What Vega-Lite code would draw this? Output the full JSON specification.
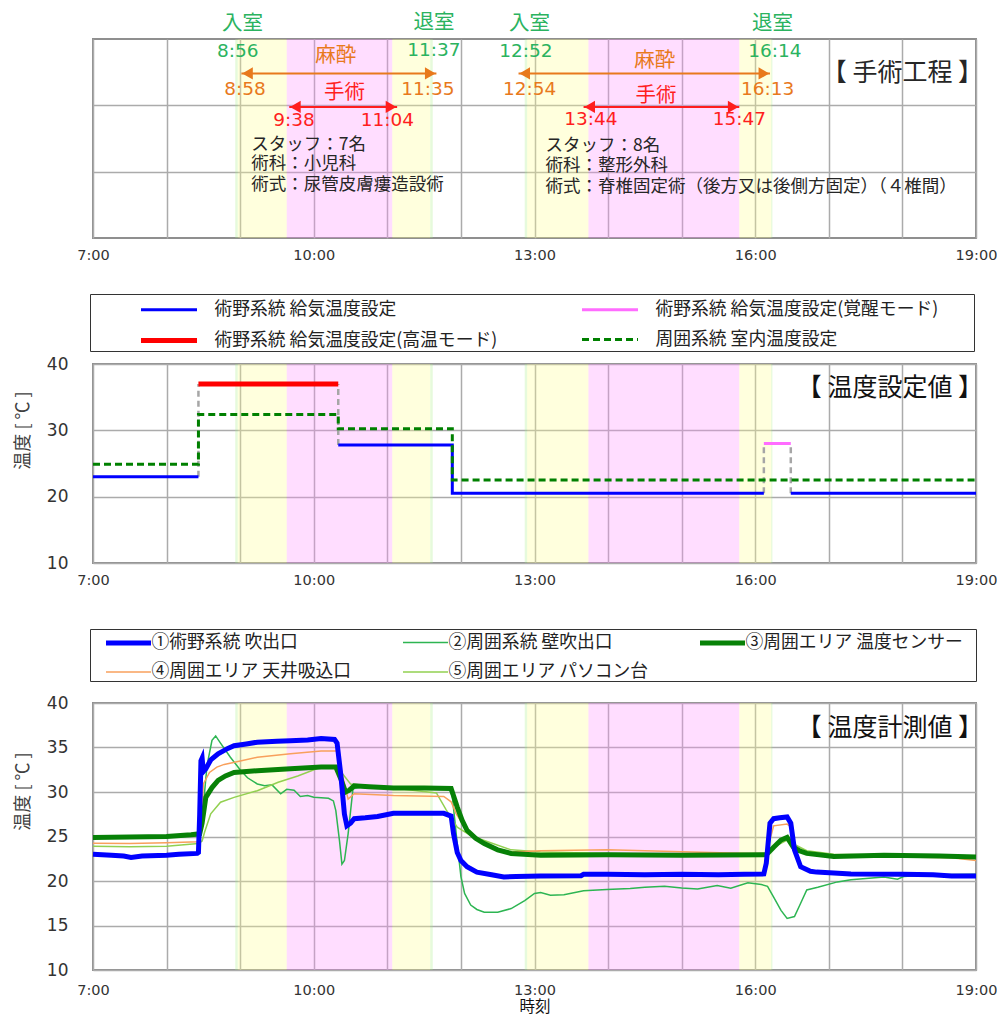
{
  "$schema": "https://vega.github.io/schema/vega-lite/v6.json",
  "padding": {"left": 13, "top": 12, "right": 5, "bottom": 0},
  "config": {
    "font": "Noto Sans CJK JP",
    "view": {"stroke": "#8f8f8f", "strokeWidth": 2},
    "axis": {"gridColor": "#ababab", "gridWidth": 1.5, "domain": false, "ticks": false},
    "axisY": {"titleFontSize": 18, "titleFontWeight": "normal", "titleColor": "#404040", "titlePadding": 14, "titleAlign": "center", "labelFont": "DejaVu Sans", "labelFontSize": 17, "labelColor": "#333", "labelPadding": 25},
    "axisX": {"labelFont": "DejaVu Sans", "labelFontSize": 14.5, "labelColor": "#333", "labelFlush": false, "labelOverlap": false, "titleFontSize": 15.5, "titleFontWeight": "normal", "titleColor": "#111"}
  },
  "resolve": {
    "scale": {"color": "independent", "fill": "independent", "shape": "independent", "strokeWidth": "independent", "strokeDash": "independent"},
    "legend": {"color": "independent", "fill": "independent", "shape": "independent", "strokeWidth": "independent", "strokeDash": "independent"}
  },
  "spacing": 29,
  "vconcat": [
    {
      "width": 883,
      "height": 199,
      "layer": [
        {
          "data": {"values": [
            {"t": 8.933, "t2": 8.967, "p": "入室"},
            {"t": 8.967, "t2": 9.633, "p": "麻酔"},
            {"t": 9.633, "t2": 11.067, "p": "手術"},
            {"t": 11.067, "t2": 11.583, "p": "麻酔"},
            {"t": 11.583, "t2": 11.617, "p": "退室"},
            {"t": 12.867, "t2": 12.9, "p": "入室"},
            {"t": 12.9, "t2": 13.733, "p": "麻酔"},
            {"t": 13.733, "t2": 15.783, "p": "手術"},
            {"t": 15.783, "t2": 16.217, "p": "麻酔"},
            {"t": 16.217, "t2": 16.233, "p": "退室"}
          ]},
          "mark": {"type": "rect", "fillOpacity": 0.3},
          "encoding": {
            "x": {"field": "t", "type": "quantitative", "scale": {"domain": [7, 19], "nice": false}, "axis": {"title": null, "values": [7, 8, 9, 10, 11, 12, 13, 14, 15, 16, 17, 18, 19], "labelExpr": "datum.value % 3 == 1 ? datum.value + ':00' : ''", "grid": true, "labelPadding": 10}},
            "x2": {"field": "t2"},
            "fill": {"field": "p", "type": "nominal", "scale": {"domain": ["入室", "麻酔", "手術", "退室"], "range": ["#acee8a", "#ffff8e", "#ff8eff", "#acee8a"]}, "legend": null}
          }
        },
        {
          "data": {"values": [
            {"t": 9.017, "t2": 11.667, "y": 2.48, "c": "麻酔"},
            {"t": 9.667, "t2": 11.133, "y": 1.975, "c": "手術"},
            {"t": 12.783, "t2": 16.2, "y": 2.48, "c": "麻酔"},
            {"t": 13.667, "t2": 15.783, "y": 1.975, "c": "手術"}
          ]},
          "mark": {"type": "rule", "strokeWidth": 2},
          "encoding": {
            "x": {"field": "t", "type": "quantitative"},
            "x2": {"field": "t2"},
            "y": {"field": "y", "type": "quantitative", "scale": {"domain": [0, 3], "nice": false}, "axis": {"values": [1, 2], "labels": false, "title": null, "grid": true}},
            "color": {"field": "c", "type": "nominal", "scale": {"domain": ["入退室", "麻酔", "手術", "情報"], "range": ["#2bb35f", "#e8791c", "#ff1e1e", "#262626"]}, "legend": null}
          }
        },
        {
          "data": {"values": [
            {"t": 9.1, "y": 2.48, "c": "麻酔", "d": "左"},
            {"t": 11.583, "y": 2.48, "c": "麻酔", "d": "右"},
            {"t": 9.75, "y": 1.975, "c": "手術", "d": "左"},
            {"t": 11.05, "y": 1.975, "c": "手術", "d": "右"},
            {"t": 12.867, "y": 2.48, "c": "麻酔", "d": "左"},
            {"t": 16.117, "y": 2.48, "c": "麻酔", "d": "右"},
            {"t": 13.75, "y": 1.975, "c": "手術", "d": "左"},
            {"t": 15.7, "y": 1.975, "c": "手術", "d": "右"}
          ]},
          "mark": {"type": "point", "filled": true, "size": 150, "opacity": 1},
          "encoding": {
            "x": {"field": "t", "type": "quantitative"},
            "y": {"field": "y", "type": "quantitative"},
            "shape": {"field": "d", "type": "nominal", "scale": {"domain": ["左", "右"], "range": ["triangle-left", "triangle-right"]}, "legend": null},
            "color": {"field": "c", "type": "nominal", "legend": null}
          }
        },
        {
          "data": {"values": [
            {"t": 9.033, "y": 3.23, "label": "入室", "c": "入退室", "r": "head"},
            {"t": 11.633, "y": 3.24, "label": "退室", "c": "入退室", "r": "head"},
            {"t": 12.933, "y": 3.23, "label": "入室", "c": "入退室", "r": "head"},
            {"t": 16.233, "y": 3.23, "label": "退室", "c": "入退室", "r": "head"},
            {"t": 10.3, "y": 2.74, "label": "麻酔", "c": "麻酔", "r": "head"},
            {"t": 14.633, "y": 2.67, "label": "麻酔", "c": "麻酔", "r": "head"},
            {"t": 10.417, "y": 2.19, "label": "手術", "c": "手術", "r": "head"},
            {"t": 14.65, "y": 2.14, "label": "手術", "c": "手術", "r": "head"},
            {"t": 8.967, "y": 2.82, "label": "8:56", "c": "入退室", "r": "time"},
            {"t": 11.633, "y": 2.83, "label": "11:37", "c": "入退室", "r": "time"},
            {"t": 12.883, "y": 2.82, "label": "12:52", "c": "入退室", "r": "time"},
            {"t": 16.267, "y": 2.82, "label": "16:14", "c": "入退室", "r": "time"},
            {"t": 9.067, "y": 2.25, "label": "8:58", "c": "麻酔", "r": "time"},
            {"t": 11.55, "y": 2.25, "label": "11:35", "c": "麻酔", "r": "time"},
            {"t": 12.933, "y": 2.25, "label": "12:54", "c": "麻酔", "r": "time"},
            {"t": 16.167, "y": 2.25, "label": "16:13", "c": "麻酔", "r": "time"},
            {"t": 9.733, "y": 1.78, "label": "9:38", "c": "手術", "r": "time"},
            {"t": 11.0, "y": 1.78, "label": "11:04", "c": "手術", "r": "time"},
            {"t": 13.767, "y": 1.79, "label": "13:44", "c": "手術", "r": "time"},
            {"t": 15.783, "y": 1.79, "label": "15:47", "c": "手術", "r": "time"},
            {"t": 9.15, "y": 1.4, "label": "スタッフ：7名", "c": "情報", "r": "info"},
            {"t": 9.15, "y": 1.115, "label": "術科：小児科", "c": "情報", "r": "info"},
            {"t": 9.15, "y": 0.8, "label": "術式：尿管皮膚瘻造設術", "c": "情報", "r": "info"},
            {"t": 13.15, "y": 1.39, "label": "スタッフ：8名", "c": "情報", "r": "info"},
            {"t": 13.15, "y": 1.09, "label": "術科：整形外科", "c": "情報", "r": "info"},
            {"t": 13.15, "y": 0.775, "label": "術式：脊椎固定術（後方又は後側方固定）（４椎間）", "c": "情報", "r": "info"},
            {"t": 18.933, "y": 2.49, "label": "【 手術工程 】", "c": "情報", "r": "title"}
          ]},
          "layer": [
            {
              "transform": [{"filter": "datum.r == 'head'"}],
              "mark": {"type": "text", "fontSize": 20.5, "baseline": "middle", "align": "center"},
              "encoding": {"x": {"field": "t", "type": "quantitative"}, "y": {"field": "y", "type": "quantitative"}, "text": {"field": "label"}, "color": {"field": "c", "type": "nominal", "legend": null}}
            },
            {
              "transform": [{"filter": "datum.r == 'time'"}],
              "mark": {"type": "text", "fontSize": 18.5, "font": "DejaVu Sans", "baseline": "middle", "align": "center"},
              "encoding": {"x": {"field": "t", "type": "quantitative"}, "y": {"field": "y", "type": "quantitative"}, "text": {"field": "label"}, "color": {"field": "c", "type": "nominal", "legend": null}}
            },
            {
              "transform": [{"filter": "datum.r == 'info'"}],
              "mark": {"type": "text", "fontSize": 17.5, "baseline": "middle", "align": "left"},
              "encoding": {"x": {"field": "t", "type": "quantitative"}, "y": {"field": "y", "type": "quantitative"}, "text": {"field": "label"}, "color": {"field": "c", "type": "nominal", "legend": null}}
            },
            {
              "transform": [{"filter": "datum.r == 'title'"}],
              "mark": {"type": "text", "fontSize": 25, "baseline": "middle", "align": "right", "dx": 12},
              "encoding": {"x": {"field": "t", "type": "quantitative"}, "y": {"field": "y", "type": "quantitative"}, "text": {"field": "label"}, "color": {"field": "c", "type": "nominal", "legend": null}}
            }
          ]
        }
      ]
    },
    {
      "spacing": 39,
      "resolve": {
        "scale": {"color": "independent", "fill": "independent", "shape": "independent", "strokeWidth": "independent", "strokeDash": "independent"},
        "legend": {"color": "independent", "fill": "independent", "shape": "independent", "strokeWidth": "independent", "strokeDash": "independent"}
      },
      "vconcat": [
        {
          "width": 883,
          "height": 199,
          "layer": [
            {
              "data": {"values": [
                {"t": 8.933, "t2": 8.967, "p": "入室"},
                {"t": 8.967, "t2": 9.633, "p": "麻酔"},
                {"t": 9.633, "t2": 11.067, "p": "手術"},
                {"t": 11.067, "t2": 11.583, "p": "麻酔"},
                {"t": 11.583, "t2": 11.617, "p": "退室"},
                {"t": 12.867, "t2": 12.9, "p": "入室"},
                {"t": 12.9, "t2": 13.733, "p": "麻酔"},
                {"t": 13.733, "t2": 15.783, "p": "手術"},
                {"t": 15.783, "t2": 16.217, "p": "麻酔"},
                {"t": 16.217, "t2": 16.233, "p": "退室"}
              ]},
              "mark": {"type": "rect", "fillOpacity": 0.3},
              "encoding": {
                "x": {"field": "t", "type": "quantitative", "scale": {"domain": [7, 19], "nice": false}, "axis": {"title": null, "values": [7, 8, 9, 10, 11, 12, 13, 14, 15, 16, 17, 18, 19], "labelExpr": "datum.value % 3 == 1 ? datum.value + ':00' : ''", "grid": true, "labelPadding": 10}},
                "x2": {"field": "t2"},
                "fill": {"field": "p", "type": "nominal", "scale": {"domain": ["入室", "麻酔", "手術", "退室"], "range": ["#acee8a", "#ffff8e", "#ff8eff", "#acee8a"]}, "legend": null}
              }
            },
            {
              "data": {"values": [
                {"t": 8.433, "v": 23, "v2": 37},
                {"t": 10.333, "v": 27.8, "v2": 37},
                {"t": 16.117, "v": 20.5, "v2": 28},
                {"t": 16.483, "v": 20.5, "v2": 28}
              ]},
              "mark": {"type": "rule", "color": "#a6a6a6", "strokeWidth": 2.5, "strokeDash": [6, 4]},
              "encoding": {
                "x": {"field": "t", "type": "quantitative"},
                "y": {"field": "v", "type": "quantitative", "scale": {"domain": [10, 40]}, "axis": {"values": [10, 15, 20, 25, 30, 35, 40], "labelExpr": "datum.value % 10 == 0 ? datum.label : ''", "title": "温度 [ ℃ ]", "titleAlign": "center", "titleY": 66, "grid": true}},
                "y2": {"field": "v2"}
              }
            },
            {
              "data": {"values": [
                {"s": "術野系統 給気温度設定", "g": 1, "t": 7, "v": 23},
                {"s": "術野系統 給気温度設定", "g": 1, "t": 8.433, "v": 23},
                {"s": "術野系統 給気温度設定", "g": 2, "t": 10.333, "v": 27.8},
                {"s": "術野系統 給気温度設定", "g": 2, "t": 11.883, "v": 20.5},
                {"s": "術野系統 給気温度設定", "g": 2, "t": 16.117, "v": 20.5},
                {"s": "術野系統 給気温度設定", "g": 3, "t": 16.483, "v": 20.5},
                {"s": "術野系統 給気温度設定", "g": 3, "t": 19, "v": 20.5},
                {"s": "術野系統 給気温度設定(覚醒モード)", "g": 4, "t": 16.117, "v": 28},
                {"s": "術野系統 給気温度設定(覚醒モード)", "g": 4, "t": 16.483, "v": 28},
                {"s": "術野系統 給気温度設定(高温モード)", "g": 5, "t": 8.433, "v": 37},
                {"s": "術野系統 給気温度設定(高温モード)", "g": 5, "t": 10.333, "v": 37},
                {"s": "周囲系統 室内温度設定", "g": 6, "t": 7, "v": 24.9},
                {"s": "周囲系統 室内温度設定", "g": 6, "t": 8.433, "v": 32.4},
                {"s": "周囲系統 室内温度設定", "g": 6, "t": 10.333, "v": 30.25},
                {"s": "周囲系統 室内温度設定", "g": 6, "t": 11.883, "v": 22.5},
                {"s": "周囲系統 室内温度設定", "g": 6, "t": 19, "v": 22.5}
              ]},
              "mark": {"type": "line", "interpolate": "step-after"},
              "encoding": {
                "x": {"field": "t", "type": "quantitative"},
                "y": {"field": "v", "type": "quantitative", "axis": {"values": [10, 15, 20, 25, 30, 35, 40], "labelExpr": "datum.value % 10 == 0 ? datum.label : ''", "title": "温度 [ ℃ ]", "titleAlign": "center", "titleY": 66, "grid": true}},
                "detail": {"field": "g"},
                "color": {"field": "s", "type": "nominal",
                  "scale": {"domain": ["術野系統 給気温度設定", "術野系統 給気温度設定(覚醒モード)", "術野系統 給気温度設定(高温モード)", "周囲系統 室内温度設定"], "range": ["#0000ff", "#ff6cff", "#ff0000", "#008000"]},
                  "legend": {"orient": "none", "legendX": -3, "legendY": -70, "direction": "horizontal", "columns": 2, "title": " ", "titleOrient": "right", "titleFontSize": 1, "titlePadding": 36, "padding": 0, "strokeColor": "#333", "fillColor": "#ffffff", "labelFontSize": 17.8, "labelColor": "#222", "labelOffset": 29, "labelLimit": 600, "symbolType": "M-2,0H2", "symbolSize": 784, "symbolOffset": 62.5, "columnPadding": 33, "rowPadding": 5}},
                "strokeDash": {"field": "s", "type": "nominal", "scale": {"domain": ["術野系統 給気温度設定", "術野系統 給気温度設定(覚醒モード)", "術野系統 給気温度設定(高温モード)", "周囲系統 室内温度設定"], "range": [[1, 0], [1, 0], [1, 0], [7, 4]]}},
                "strokeWidth": {"field": "s", "type": "nominal", "scale": {"type": "ordinal", "domain": ["術野系統 給気温度設定", "術野系統 給気温度設定(覚醒モード)", "術野系統 給気温度設定(高温モード)", "周囲系統 室内温度設定"], "range": [3, 3, 5, 3]}}
              }
            },
            {
              "data": {"values": [{"t": 18.933, "v": 36.4, "label": "【 温度設定値 】"}]},
              "mark": {"type": "text", "fontSize": 25, "align": "right", "baseline": "middle", "color": "#111", "dx": 12},
              "encoding": {"x": {"field": "t", "type": "quantitative"}, "y": {"field": "v", "type": "quantitative"}, "text": {"field": "label"}}
            }
          ]
        },
        {
          "width": 883,
          "height": 267,
          "layer": [
            {
              "data": {"values": [
                {"t": 8.933, "t2": 8.967, "p": "入室"},
                {"t": 8.967, "t2": 9.633, "p": "麻酔"},
                {"t": 9.633, "t2": 11.067, "p": "手術"},
                {"t": 11.067, "t2": 11.583, "p": "麻酔"},
                {"t": 11.583, "t2": 11.617, "p": "退室"},
                {"t": 12.867, "t2": 12.9, "p": "入室"},
                {"t": 12.9, "t2": 13.733, "p": "麻酔"},
                {"t": 13.733, "t2": 15.783, "p": "手術"},
                {"t": 15.783, "t2": 16.217, "p": "麻酔"},
                {"t": 16.217, "t2": 16.233, "p": "退室"}
              ]},
              "mark": {"type": "rect", "fillOpacity": 0.3},
              "encoding": {
                "x": {"field": "t", "type": "quantitative", "scale": {"domain": [7, 19], "nice": false}, "axis": {"title": "時刻", "titlePadding": 3, "values": [7, 8, 9, 10, 11, 12, 13, 14, 15, 16, 17, 18, 19], "labelExpr": "datum.value % 3 == 1 ? datum.value + ':00' : ''", "grid": true, "labelPadding": 13}},
                "x2": {"field": "t2"},
                "fill": {"field": "p", "type": "nominal", "scale": {"domain": ["入室", "麻酔", "手術", "退室"], "range": ["#acee8a", "#ffff8e", "#ff8eff", "#acee8a"]}, "legend": null}
              }
            },
            {
              "data": {"values": [
                {"s": "②周囲系統 壁吹出口", "t": 7.0, "v": 24.8}, {"s": "②周囲系統 壁吹出口", "t": 8.0, "v": 24.9}, {"s": "②周囲系統 壁吹出口", "t": 8.433, "v": 25.1},
                {"s": "②周囲系統 壁吹出口", "t": 8.483, "v": 27.0}, {"s": "②周囲系統 壁吹出口", "t": 8.55, "v": 33.0}, {"s": "②周囲系統 壁吹出口", "t": 8.617, "v": 35.8},
                {"s": "②周囲系統 壁吹出口", "t": 8.667, "v": 36.3}, {"s": "②周囲系統 壁吹出口", "t": 8.733, "v": 35.5}, {"s": "②周囲系統 壁吹出口", "t": 8.867, "v": 33.9},
                {"s": "②周囲系統 壁吹出口", "t": 9.0, "v": 32.5}, {"s": "②周囲系統 壁吹出口", "t": 9.1, "v": 31.6}, {"s": "②周囲系統 壁吹出口", "t": 9.233, "v": 30.9},
                {"s": "②周囲系統 壁吹出口", "t": 9.333, "v": 30.7}, {"s": "②周囲系統 壁吹出口", "t": 9.433, "v": 30.8}, {"s": "②周囲系統 壁吹出口", "t": 9.55, "v": 29.8},
                {"s": "②周囲系統 壁吹出口", "t": 9.633, "v": 30.3}, {"s": "②周囲系統 壁吹出口", "t": 9.733, "v": 30.2}, {"s": "②周囲系統 壁吹出口", "t": 9.817, "v": 29.5},
                {"s": "②周囲系統 壁吹出口", "t": 9.917, "v": 29.6}, {"s": "②周囲系統 壁吹出口", "t": 10.0, "v": 29.4}, {"s": "②周囲系統 壁吹出口", "t": 10.2, "v": 29.3},
                {"s": "②周囲系統 壁吹出口", "t": 10.267, "v": 29.0}, {"s": "②周囲系統 壁吹出口", "t": 10.3, "v": 27.9}, {"s": "②周囲系統 壁吹出口", "t": 10.35, "v": 24.5},
                {"s": "②周囲系統 壁吹出口", "t": 10.383, "v": 21.9}, {"s": "②周囲系統 壁吹出口", "t": 10.417, "v": 22.3}, {"s": "②周囲系統 壁吹出口", "t": 10.467, "v": 25.3},
                {"s": "②周囲系統 壁吹出口", "t": 10.533, "v": 30.35}, {"s": "②周囲系統 壁吹出口", "t": 10.667, "v": 30.6}, {"s": "②周囲系統 壁吹出口", "t": 11.083, "v": 30.5},
                {"s": "②周囲系統 壁吹出口", "t": 11.5, "v": 30.5}, {"s": "②周囲系統 壁吹出口", "t": 11.833, "v": 30.6}, {"s": "②周囲系統 壁吹出口", "t": 11.883, "v": 29.5},
                {"s": "②周囲系統 壁吹出口", "t": 11.95, "v": 24.2}, {"s": "②周囲系統 壁吹出口", "t": 12.0, "v": 20.5}, {"s": "②周囲系統 壁吹出口", "t": 12.05, "v": 18.6},
                {"s": "②周囲系統 壁吹出口", "t": 12.133, "v": 17.3}, {"s": "②周囲系統 壁吹出口", "t": 12.217, "v": 16.8}, {"s": "②周囲系統 壁吹出口", "t": 12.317, "v": 16.5},
                {"s": "②周囲系統 壁吹出口", "t": 12.5, "v": 16.5}, {"s": "②周囲系統 壁吹出口", "t": 12.683, "v": 16.9}, {"s": "②周囲系統 壁吹出口", "t": 12.867, "v": 17.8},
                {"s": "②周囲系統 壁吹出口", "t": 13.0, "v": 18.6}, {"s": "②周囲系統 壁吹出口", "t": 13.083, "v": 18.7}, {"s": "②周囲系統 壁吹出口", "t": 13.217, "v": 18.4},
                {"s": "②周囲系統 壁吹出口", "t": 13.4, "v": 18.45}, {"s": "②周囲系統 壁吹出口", "t": 13.667, "v": 18.9}, {"s": "②周囲系統 壁吹出口", "t": 13.983, "v": 19.05},
                {"s": "②周囲系統 壁吹出口", "t": 14.3, "v": 19.15}, {"s": "②周囲系統 壁吹出口", "t": 14.5, "v": 19.3}, {"s": "②周囲系統 壁吹出口", "t": 14.767, "v": 19.4},
                {"s": "②周囲系統 壁吹出口", "t": 15.0, "v": 19.2}, {"s": "②周囲系統 壁吹出口", "t": 15.217, "v": 19.1}, {"s": "②周囲系統 壁吹出口", "t": 15.483, "v": 19.5},
                {"s": "②周囲系統 壁吹出口", "t": 15.667, "v": 19.2}, {"s": "②周囲系統 壁吹出口", "t": 15.9, "v": 19.8}, {"s": "②周囲系統 壁吹出口", "t": 16.083, "v": 19.6},
                {"s": "②周囲系統 壁吹出口", "t": 16.167, "v": 19.4}, {"s": "②周囲系統 壁吹出口", "t": 16.25, "v": 18.2}, {"s": "②周囲系統 壁吹出口", "t": 16.35, "v": 16.7},
                {"s": "②周囲系統 壁吹出口", "t": 16.433, "v": 15.8}, {"s": "②周囲系統 壁吹出口", "t": 16.533, "v": 16.0}, {"s": "②周囲系統 壁吹出口", "t": 16.617, "v": 17.5},
                {"s": "②周囲系統 壁吹出口", "t": 16.7, "v": 19.0}, {"s": "②周囲系統 壁吹出口", "t": 16.85, "v": 19.3}, {"s": "②周囲系統 壁吹出口", "t": 17.117, "v": 19.9},
                {"s": "②周囲系統 壁吹出口", "t": 17.3, "v": 20.15}, {"s": "②周囲系統 壁吹出口", "t": 17.75, "v": 20.45}, {"s": "②周囲系統 壁吹出口", "t": 17.933, "v": 20.2},
                {"s": "②周囲系統 壁吹出口", "t": 18.017, "v": 20.5}, {"s": "②周囲系統 壁吹出口", "t": 18.383, "v": 20.7}, {"s": "②周囲系統 壁吹出口", "t": 19.0, "v": 20.75},
                {"s": "⑤周囲エリア パソコン台", "t": 7.0, "v": 23.9}, {"s": "⑤周囲エリア パソコン台", "t": 7.5, "v": 23.85}, {"s": "⑤周囲エリア パソコン台", "t": 8.0, "v": 23.9},
                {"s": "⑤周囲エリア パソコン台", "t": 8.433, "v": 24.2}, {"s": "⑤周囲エリア パソコン台", "t": 8.483, "v": 24.5}, {"s": "⑤周囲エリア パソコン台", "t": 8.517, "v": 25.5},
                {"s": "⑤周囲エリア パソコン台", "t": 8.6, "v": 27.55}, {"s": "⑤周囲エリア パソコン台", "t": 8.733, "v": 28.85}, {"s": "⑤周囲エリア パソコン台", "t": 8.917, "v": 29.4},
                {"s": "⑤周囲エリア パソコン台", "t": 9.233, "v": 30.15}, {"s": "⑤周囲エリア パソコン台", "t": 9.517, "v": 31.1}, {"s": "⑤周囲エリア パソコン台", "t": 9.783, "v": 31.8},
                {"s": "⑤周囲エリア パソコン台", "t": 10.1, "v": 32.8}, {"s": "⑤周囲エリア パソコン台", "t": 10.3, "v": 32.8}, {"s": "⑤周囲エリア パソコン台", "t": 10.367, "v": 32.3},
                {"s": "⑤周囲エリア パソコン台", "t": 10.5, "v": 30.9}, {"s": "⑤周囲エリア パソコン台", "t": 11.083, "v": 30.45}, {"s": "⑤周囲エリア パソコン台", "t": 11.667, "v": 29.9},
                {"s": "⑤周囲エリア パソコン台", "t": 11.8, "v": 28.0}, {"s": "⑤周囲エリア パソコン台", "t": 11.95, "v": 26.05}, {"s": "⑤周囲エリア パソコン台", "t": 12.133, "v": 25.1},
                {"s": "⑤周囲エリア パソコン台", "t": 12.317, "v": 24.55}, {"s": "⑤周囲エリア パソコン台", "t": 12.683, "v": 23.5}, {"s": "⑤周囲エリア パソコン台", "t": 13.083, "v": 23.25},
                {"s": "⑤周囲エリア パソコン台", "t": 14.0, "v": 23.1}, {"s": "⑤周囲エリア パソコン台", "t": 15.0, "v": 23.0}, {"s": "⑤周囲エリア パソコン台", "t": 16.15, "v": 23.0},
                {"s": "⑤周囲エリア パソコン台", "t": 16.25, "v": 23.8}, {"s": "⑤周囲エリア パソコン台", "t": 16.433, "v": 24.6}, {"s": "⑤周囲エリア パソコン台", "t": 16.533, "v": 24.1},
                {"s": "⑤周囲エリア パソコン台", "t": 16.7, "v": 23.4}, {"s": "⑤周囲エリア パソコン台", "t": 17.067, "v": 23.0}, {"s": "⑤周囲エリア パソコン台", "t": 18.0, "v": 22.9},
                {"s": "⑤周囲エリア パソコン台", "t": 19.0, "v": 22.6},
                {"s": "④周囲エリア 天井吸込口", "t": 7.0, "v": 24.25}, {"s": "④周囲エリア 天井吸込口", "t": 7.5, "v": 24.2}, {"s": "④周囲エリア 天井吸込口", "t": 8.0, "v": 24.3},
                {"s": "④周囲エリア 天井吸込口", "t": 8.433, "v": 24.4}, {"s": "④周囲エリア 天井吸込口", "t": 8.467, "v": 26.0}, {"s": "④周囲エリア 天井吸込口", "t": 8.5, "v": 30.9},
                {"s": "④周囲エリア 天井吸込口", "t": 8.583, "v": 32.2}, {"s": "④周囲エリア 天井吸込口", "t": 8.683, "v": 32.8}, {"s": "④周囲エリア 天井吸込口", "t": 8.783, "v": 33.1},
                {"s": "④周囲エリア 天井吸込口", "t": 9.017, "v": 33.5}, {"s": "④周囲エリア 天井吸込口", "t": 9.233, "v": 33.9}, {"s": "④周囲エリア 天井吸込口", "t": 9.683, "v": 34.3},
                {"s": "④周囲エリア 天井吸込口", "t": 10.1, "v": 34.6}, {"s": "④周囲エリア 天井吸込口", "t": 10.317, "v": 34.6}, {"s": "④周囲エリア 天井吸込口", "t": 10.4, "v": 31.5},
                {"s": "④周囲エリア 天井吸込口", "t": 10.467, "v": 29.2}, {"s": "④周囲エリア 天井吸込口", "t": 10.55, "v": 29.8}, {"s": "④周囲エリア 天井吸込口", "t": 11.083, "v": 29.6},
                {"s": "④周囲エリア 天井吸込口", "t": 11.767, "v": 29.5}, {"s": "④周囲エリア 天井吸込口", "t": 11.867, "v": 28.9}, {"s": "④周囲エリア 天井吸込口", "t": 11.933, "v": 27.6},
                {"s": "④周囲エリア 天井吸込口", "t": 12.05, "v": 26.05}, {"s": "④周囲エリア 天井吸込口", "t": 12.217, "v": 24.6}, {"s": "④周囲エリア 天井吸込口", "t": 12.417, "v": 23.8},
                {"s": "④周囲エリア 天井吸込口", "t": 12.683, "v": 23.25}, {"s": "④周囲エリア 天井吸込口", "t": 13.083, "v": 23.4}, {"s": "④周囲エリア 天井吸込口", "t": 14.0, "v": 23.5},
                {"s": "④周囲エリア 天井吸込口", "t": 15.0, "v": 23.3}, {"s": "④周囲エリア 天井吸込口", "t": 15.917, "v": 23.1}, {"s": "④周囲エリア 天井吸込口", "t": 16.15, "v": 23.1},
                {"s": "④周囲エリア 天井吸込口", "t": 16.25, "v": 26.2}, {"s": "④周囲エリア 天井吸込口", "t": 16.433, "v": 26.4}, {"s": "④周囲エリア 天井吸込口", "t": 16.467, "v": 26.2},
                {"s": "④周囲エリア 天井吸込口", "t": 16.533, "v": 24.2}, {"s": "④周囲エリア 天井吸込口", "t": 16.583, "v": 23.25}, {"s": "④周囲エリア 天井吸込口", "t": 17.0, "v": 22.8},
                {"s": "④周囲エリア 天井吸込口", "t": 18.0, "v": 22.7}, {"s": "④周囲エリア 天井吸込口", "t": 18.667, "v": 22.6}, {"s": "④周囲エリア 天井吸込口", "t": 19.0, "v": 22.3},
                {"s": "③周囲エリア 温度センサー", "t": 7.0, "v": 24.9}, {"s": "③周囲エリア 温度センサー", "t": 7.5, "v": 24.95}, {"s": "③周囲エリア 温度センサー", "t": 8.0, "v": 25.0},
                {"s": "③周囲エリア 温度センサー", "t": 8.333, "v": 25.2}, {"s": "③周囲エリア 温度センサー", "t": 8.45, "v": 25.3}, {"s": "③周囲エリア 温度センサー", "t": 8.483, "v": 26.5},
                {"s": "③周囲エリア 温度センサー", "t": 8.533, "v": 29.4}, {"s": "③周囲エリア 温度センサー", "t": 8.617, "v": 30.5}, {"s": "③周囲エリア 温度センサー", "t": 8.7, "v": 31.3},
                {"s": "③周囲エリア 温度センサー", "t": 8.8, "v": 31.8}, {"s": "③周囲エリア 温度センサー", "t": 8.917, "v": 32.2}, {"s": "③周囲エリア 温度センサー", "t": 9.233, "v": 32.4},
                {"s": "③周囲エリア 温度センサー", "t": 9.683, "v": 32.6}, {"s": "③周囲エリア 温度センサー", "t": 10.1, "v": 32.8}, {"s": "③周囲エリア 温度センサー", "t": 10.3, "v": 32.8},
                {"s": "③周囲エリア 温度センサー", "t": 10.367, "v": 31.5}, {"s": "③周囲エリア 温度センサー", "t": 10.433, "v": 30.0}, {"s": "③周囲エリア 温度センサー", "t": 10.483, "v": 30.2},
                {"s": "③周囲エリア 温度センサー", "t": 10.55, "v": 30.7}, {"s": "③周囲エリア 温度センサー", "t": 10.75, "v": 30.6}, {"s": "③周囲エリア 温度センサー", "t": 11.083, "v": 30.45},
                {"s": "③周囲エリア 温度センサー", "t": 11.5, "v": 30.45}, {"s": "③周囲エリア 温度センサー", "t": 11.867, "v": 30.4}, {"s": "③周囲エリア 温度センサー", "t": 11.95, "v": 28.3},
                {"s": "③周囲エリア 温度センサー", "t": 12.017, "v": 26.8}, {"s": "③周囲エリア 温度センサー", "t": 12.083, "v": 25.7}, {"s": "③周囲エリア 温度センサー", "t": 12.2, "v": 24.8},
                {"s": "③周囲エリア 温度センサー", "t": 12.317, "v": 24.2}, {"s": "③周囲エリア 温度センサー", "t": 12.5, "v": 23.5}, {"s": "③周囲エリア 温度センサー", "t": 12.683, "v": 23.1},
                {"s": "③周囲エリア 温度センサー", "t": 13.083, "v": 22.9}, {"s": "③周囲エリア 温度センサー", "t": 14.0, "v": 22.95}, {"s": "③周囲エリア 温度センサー", "t": 15.0, "v": 22.9},
                {"s": "③周囲エリア 温度センサー", "t": 16.15, "v": 22.95}, {"s": "③周囲エリア 温度センサー", "t": 16.25, "v": 23.8}, {"s": "③周囲エリア 温度センサー", "t": 16.35, "v": 24.6},
                {"s": "③周囲エリア 温度センサー", "t": 16.433, "v": 24.9}, {"s": "③周囲エリア 温度センサー", "t": 16.517, "v": 23.8}, {"s": "③周囲エリア 温度センサー", "t": 16.6, "v": 23.4},
                {"s": "③周囲エリア 温度センサー", "t": 16.7, "v": 23.1}, {"s": "③周囲エリア 温度センサー", "t": 17.067, "v": 22.75}, {"s": "③周囲エリア 温度センサー", "t": 17.75, "v": 22.9},
                {"s": "③周囲エリア 温度センサー", "t": 18.5, "v": 22.8}, {"s": "③周囲エリア 温度センサー", "t": 19.0, "v": 22.7},
                {"s": "①術野系統 吹出口", "t": 7.0, "v": 23.0}, {"s": "①術野系統 吹出口", "t": 7.25, "v": 22.9}, {"s": "①術野系統 吹出口", "t": 7.417, "v": 22.8},
                {"s": "①術野系統 吹出口", "t": 7.517, "v": 22.65}, {"s": "①術野系統 吹出口", "t": 7.667, "v": 22.8}, {"s": "①術野系統 吹出口", "t": 8.0, "v": 22.9},
                {"s": "①術野系統 吹出口", "t": 8.167, "v": 23.0}, {"s": "①術野系統 吹出口", "t": 8.417, "v": 23.1}, {"s": "①術野系統 吹出口", "t": 8.433, "v": 23.2},
                {"s": "①術野系統 吹出口", "t": 8.45, "v": 27.5}, {"s": "①術野系統 吹出口", "t": 8.467, "v": 33.5}, {"s": "①術野系統 吹出口", "t": 8.483, "v": 33.8},
                {"s": "①術野系統 吹出口", "t": 8.5, "v": 32.3}, {"s": "①術野系統 吹出口", "t": 8.533, "v": 32.6}, {"s": "①術野系統 吹出口", "t": 8.6, "v": 33.6},
                {"s": "①術野系統 吹出口", "t": 8.7, "v": 34.3}, {"s": "①術野系統 吹出口", "t": 8.833, "v": 34.9}, {"s": "①術野系統 吹出口", "t": 8.917, "v": 35.2},
                {"s": "①術野系統 吹出口", "t": 9.083, "v": 35.4}, {"s": "①術野系統 吹出口", "t": 9.233, "v": 35.6}, {"s": "①術野系統 吹出口", "t": 9.5, "v": 35.7},
                {"s": "①術野系統 吹出口", "t": 9.683, "v": 35.75}, {"s": "①術野系統 吹出口", "t": 9.917, "v": 35.85}, {"s": "①術野系統 吹出口", "t": 10.1, "v": 36.0},
                {"s": "①術野系統 吹出口", "t": 10.283, "v": 35.9}, {"s": "①術野系統 吹出口", "t": 10.317, "v": 35.5}, {"s": "①術野系統 吹出口", "t": 10.367, "v": 32.0},
                {"s": "①術野系統 吹出口", "t": 10.417, "v": 27.5}, {"s": "①術野系統 吹出口", "t": 10.45, "v": 26.2}, {"s": "①術野系統 吹出口", "t": 10.5, "v": 26.5},
                {"s": "①術野系統 吹出口", "t": 10.55, "v": 27.0}, {"s": "①術野系統 吹出口", "t": 10.7, "v": 27.1}, {"s": "①術野系統 吹出口", "t": 10.867, "v": 27.25},
                {"s": "①術野系統 吹出口", "t": 11.083, "v": 27.6}, {"s": "①術野系統 吹出口", "t": 11.5, "v": 27.6}, {"s": "①術野系統 吹出口", "t": 11.767, "v": 27.6},
                {"s": "①術野系統 吹出口", "t": 11.867, "v": 27.3}, {"s": "①術野系統 吹出口", "t": 11.9, "v": 25.3}, {"s": "①術野系統 吹出口", "t": 11.95, "v": 23.2},
                {"s": "①術野系統 吹出口", "t": 12.0, "v": 22.3}, {"s": "①術野系統 吹出口", "t": 12.083, "v": 21.6}, {"s": "①術野系統 吹出口", "t": 12.217, "v": 21.0},
                {"s": "①術野系統 吹出口", "t": 12.417, "v": 20.7}, {"s": "①術野系統 吹出口", "t": 12.583, "v": 20.45}, {"s": "①術野系統 吹出口", "t": 12.75, "v": 20.5},
                {"s": "①術野系統 吹出口", "t": 13.083, "v": 20.55}, {"s": "①術野系統 吹出口", "t": 13.633, "v": 20.6}, {"s": "①術野系統 吹出口", "t": 13.667, "v": 20.75},
                {"s": "①術野系統 吹出口", "t": 14.0, "v": 20.75}, {"s": "①術野系統 吹出口", "t": 14.5, "v": 20.7}, {"s": "①術野系統 吹出口", "t": 15.0, "v": 20.75},
                {"s": "①術野系統 吹出口", "t": 15.5, "v": 20.7}, {"s": "①術野系統 吹出口", "t": 15.85, "v": 20.75}, {"s": "①術野系統 吹出口", "t": 16.117, "v": 20.8},
                {"s": "①術野系統 吹出口", "t": 16.15, "v": 22.0}, {"s": "①術野系統 吹出口", "t": 16.2, "v": 26.5}, {"s": "①術野系統 吹出口", "t": 16.25, "v": 27.0},
                {"s": "①術野系統 吹出口", "t": 16.333, "v": 27.1}, {"s": "①術野系統 吹出口", "t": 16.433, "v": 27.2}, {"s": "①術野系統 吹出口", "t": 16.483, "v": 26.5},
                {"s": "①術野系統 吹出口", "t": 16.533, "v": 23.5}, {"s": "①術野系統 吹出口", "t": 16.617, "v": 21.6}, {"s": "①術野系統 吹出口", "t": 16.75, "v": 21.1},
                {"s": "①術野系統 吹出口", "t": 16.833, "v": 21.0}, {"s": "①術野系統 吹出口", "t": 17.3, "v": 20.8}, {"s": "①術野系統 吹出口", "t": 18.0, "v": 20.75},
                {"s": "①術野系統 吹出口", "t": 18.417, "v": 20.7}, {"s": "①術野系統 吹出口", "t": 18.667, "v": 20.55}, {"s": "①術野系統 吹出口", "t": 19.0, "v": 20.55}
              ]},
              "mark": {"type": "line"},
              "encoding": {
                "x": {"field": "t", "type": "quantitative"},
                "y": {"field": "v", "type": "quantitative", "scale": {"domain": [10, 40]}, "axis": {"values": [10, 15, 20, 25, 30, 35, 40], "title": "温度 [ ℃ ]", "titleAlign": "center", "titleY": 88, "grid": true}},
                "color": {"field": "s", "type": "nominal",
                  "scale": {"domain": ["①術野系統 吹出口", "②周囲系統 壁吹出口", "③周囲エリア 温度センサー", "④周囲エリア 天井吸込口", "⑤周囲エリア パソコン台"], "range": ["#0000ff", "#2db552", "#078107", "#f8a05c", "#92d050"]},
                  "legend": {"orient": "none", "legendX": -3, "legendY": -74, "direction": "horizontal", "columns": 3, "title": " ", "titleOrient": "right", "titleFontSize": 1, "titlePadding": 13, "padding": 0, "strokeColor": "#333", "fillColor": "#ffffff", "labelFontSize": 17.8, "labelColor": "#222", "labelOffset": 9, "labelLimit": 600, "symbolType": "M-2,0H2", "symbolSize": 506, "symbolOffset": 24.5, "columnPadding": 35, "rowPadding": 7}},
                "strokeWidth": {"field": "s", "type": "nominal", "scale": {"type": "ordinal", "domain": ["①術野系統 吹出口", "②周囲系統 壁吹出口", "③周囲エリア 温度センサー", "④周囲エリア 天井吸込口", "⑤周囲エリア パソコン台"], "range": [5, 1.5, 5, 1.5, 1.5]}}
              }
            },
            {
              "data": {"values": [{"t": 18.933, "v": 37.2, "label": "【 温度計測値 】"}]},
              "mark": {"type": "text", "fontSize": 25, "align": "right", "baseline": "middle", "color": "#111", "dx": 12},
              "encoding": {"x": {"field": "t", "type": "quantitative"}, "y": {"field": "v", "type": "quantitative"}, "text": {"field": "label"}}
            }
          ]
        }
      ]
    }
  ]
}
